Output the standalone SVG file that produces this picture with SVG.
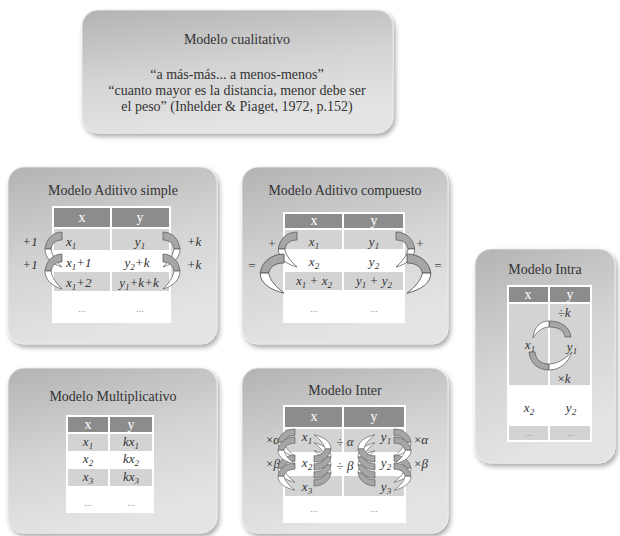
<svg xmlns="http://www.w3.org/2000/svg" xmlns:xlink="http://www.w3.org/1999/xlink" width="620" height="536" viewBox="0 0 620 536">
<defs>
<linearGradient id="bg" x1="0" y1="0" x2="0.3" y2="1">
<stop offset="0" stop-color="#b3b3b3"/>
<stop offset="0.55" stop-color="#d4d4d4"/>
<stop offset="1" stop-color="#e4e4e4"/>
</linearGradient>
<filter id="sh" x="-10%" y="-10%" width="125%" height="125%">
<feDropShadow dx="2" dy="3" stdDeviation="2.5" flood-color="#000" flood-opacity="0.35"/>
</filter>
<g id="rib">
<path class="rg" d="M0,0 C-9,0 -16,7 -17,17 L-11,17 C-10,11 -6,8 0,8 Z"/>
<path class="rw" d="M-17,17 C-17,26 -10,32 0,35 C-5,30 -10,24 -11,17 Z"/>
</g>
</defs>
<style>
.box{fill:url(#bg);filter:url(#sh);stroke:#eeeeee;stroke-width:0.8}
.t{font-family:"Liberation Serif","Times New Roman",serif;font-size:14px;fill:#333;text-anchor:middle}
.m{font-family:"Liberation Serif","Times New Roman",serif;font-style:italic;font-size:13px;fill:#333;text-anchor:middle}
.ms{font-family:"Liberation Serif","Times New Roman",serif;font-style:italic;font-size:13px;fill:#333}
.op{font-family:"Liberation Serif","Times New Roman",serif;font-size:13px;fill:#444;text-anchor:middle}
.hdt{font-family:"Liberation Serif","Times New Roman",serif;font-size:14px;fill:#fff;text-anchor:middle}
.dots{font-family:"Liberation Serif",serif;font-size:10px;fill:#999;text-anchor:middle}
.tb{fill:#fff}
.hd{fill:#8c8c8c}
.gr{fill:#d3d3d3}
.rg{fill:#a6a6a6;stroke:#555;stroke-width:0.7}
.rw{fill:#fff;stroke:#555;stroke-width:0.7}
.sb{font-size:9px}
</style>

<g id="cualitativo">
<rect class="box" x="82" y="10" width="311" height="123" rx="16"/>
<text class="t" x="237" y="44">Modelo cualitativo</text>
<text class="t" x="237" y="79">“a más-más... a menos-menos”</text>
<text class="t" x="237" y="95">“cuanto mayor es la distancia, menor debe ser</text>
<text class="t" x="237" y="111">el peso” (Inhelder &amp; Piaget, 1972, p.152)</text>
</g>

<g id="aditivo-simple">
<rect class="box" x="8" y="167" width="209" height="177" rx="16"/>
<text class="t" x="113" y="195">Modelo Aditivo simple</text>
<rect class="tb" x="52" y="206" width="119" height="117"/>
<rect class="hd" x="54" y="208" width="56" height="19"/>
<rect class="hd" x="112" y="208" width="57" height="19"/>
<rect class="gr" x="54" y="229" width="56" height="21"/>
<rect class="gr" x="112" y="229" width="57" height="21"/>
<rect class="gr" x="54" y="272" width="56" height="19"/>
<rect class="gr" x="112" y="272" width="57" height="19"/>
<text class="hdt" x="82" y="222">x</text>
<text class="hdt" x="140" y="222">y</text>
<text class="ms" x="66" y="246">x<tspan class="sb" dy="3">1</tspan></text>
<text class="m" x="140" y="246">y<tspan class="sb" dy="3">1</tspan></text>
<text class="ms" x="66" y="267">x<tspan class="sb" dy="3">1</tspan><tspan dy="-3">+1</tspan></text>
<text class="m" x="137" y="267">y<tspan class="sb" dy="3">2</tspan><tspan dy="-3">+k</tspan></text>
<text class="ms" x="66" y="287">x<tspan class="sb" dy="3">1</tspan><tspan dy="-3">+2</tspan></text>
<text class="m" x="139" y="287">y<tspan class="sb" dy="3">1</tspan><tspan dy="-3">+k+k</tspan></text>
<text class="dots" x="82" y="312">...</text>
<text class="dots" x="140" y="312">...</text>
<text class="m" x="30" y="246">+1</text>
<text class="m" x="30" y="269">+1</text>
<text class="m" x="194" y="246">+k</text>
<text class="m" x="194" y="269">+k</text>
</g>

<g id="aditivo-compuesto">
<rect class="box" x="242" y="167" width="206" height="177" rx="16"/>
<text class="t" x="345" y="195">Modelo Aditivo compuesto</text>
<rect class="tb" x="283" y="212" width="122" height="111"/>
<rect class="hd" x="285" y="214" width="57" height="14"/>
<rect class="hd" x="344" y="214" width="59" height="14"/>
<rect class="gr" x="285" y="230" width="57" height="19"/>
<rect class="gr" x="344" y="230" width="59" height="19"/>
<rect class="gr" x="285" y="272" width="57" height="18"/>
<rect class="gr" x="344" y="272" width="59" height="18"/>
<text class="hdt" x="314" y="225">x</text>
<text class="hdt" x="374" y="225">y</text>
<text class="m" x="314" y="246">x<tspan class="sb" dy="3">1</tspan></text>
<text class="m" x="374" y="246">y<tspan class="sb" dy="3">1</tspan></text>
<text class="m" x="314" y="266">x<tspan class="sb" dy="3">2</tspan></text>
<text class="m" x="374" y="266">y<tspan class="sb" dy="3">2</tspan></text>
<text class="m" x="314" y="285">x<tspan class="sb" dy="3">1</tspan><tspan dy="-3"> + x</tspan><tspan class="sb" dy="3">2</tspan></text>
<text class="m" x="374" y="285">y<tspan class="sb" dy="3">1</tspan><tspan dy="-3"> + y</tspan><tspan class="sb" dy="3">2</tspan></text>
<text class="dots" x="314" y="312">...</text>
<text class="dots" x="374" y="312">...</text>
<text class="op" x="272" y="248">+</text>
<text class="op" x="420" y="248">+</text>
<text class="op" x="252" y="270">=</text>
<text class="op" x="438" y="270">=</text>
</g>

<g id="intra">
<rect class="box" x="475" y="249" width="140" height="214" rx="16"/>
<text class="t" x="545" y="274">Modelo Intra</text>
<rect class="tb" x="507" y="285" width="85" height="157"/>
<rect class="hd" x="509" y="287" width="39" height="15"/>
<rect class="hd" x="550" y="287" width="40" height="15"/>
<rect class="gr" x="509" y="304" width="39" height="81"/>
<rect class="gr" x="550" y="304" width="40" height="81"/>
<rect class="gr" x="509" y="426" width="39" height="14"/>
<rect class="gr" x="550" y="426" width="40" height="14"/>
<text class="hdt" x="528" y="299">x</text>
<text class="hdt" x="570" y="299">y</text>
<text class="m" x="564" y="317"><tspan font-style="normal">÷</tspan>k</text>
<text class="m" x="530" y="349">x<tspan class="sb" dy="3">1</tspan></text>
<text class="m" x="572" y="351">y<tspan class="sb" dy="3">1</tspan></text>
<text class="m" x="564" y="383"><tspan font-style="normal">×</tspan>k</text>
<text class="m" x="529" y="412">x<tspan class="sb" dy="3">2</tspan></text>
<text class="m" x="571" y="412">y<tspan class="sb" dy="3">2</tspan></text>
<text class="dots" x="529" y="436">...</text>
<text class="dots" x="571" y="436">...</text>
</g>

<g id="multiplicativo">
<rect class="box" x="8" y="368" width="209" height="165" rx="16"/>
<text class="t" x="113" y="401">Modelo Multiplicativo</text>
<rect class="tb" x="66" y="415" width="88" height="98"/>
<rect class="hd" x="68" y="417" width="40" height="15"/>
<rect class="hd" x="110" y="417" width="42" height="15"/>
<rect class="gr" x="68" y="434" width="40" height="17"/>
<rect class="gr" x="110" y="434" width="42" height="17"/>
<rect class="gr" x="68" y="469" width="40" height="17"/>
<rect class="gr" x="110" y="469" width="42" height="17"/>
<text class="hdt" x="88" y="429">x</text>
<text class="hdt" x="131" y="429">y</text>
<text class="m" x="88" y="446">x<tspan class="sb" dy="3">1</tspan></text>
<text class="m" x="131" y="446">kx<tspan class="sb" dy="3">1</tspan></text>
<text class="m" x="88" y="463">x<tspan class="sb" dy="3">2</tspan></text>
<text class="m" x="131" y="463">kx<tspan class="sb" dy="3">2</tspan></text>
<text class="m" x="88" y="481">x<tspan class="sb" dy="3">3</tspan></text>
<text class="m" x="131" y="481">kx<tspan class="sb" dy="3">3</tspan></text>
<text class="dots" x="88" y="506">...</text>
<text class="dots" x="131" y="506">...</text>
</g>

<g id="inter">
<rect class="box" x="242" y="368" width="206" height="165" rx="16"/>
<text class="t" x="345" y="395">Modelo Inter</text>
<rect class="tb" x="283" y="405" width="123" height="118"/>
<rect class="hd" x="285" y="407" width="57" height="20"/>
<rect class="hd" x="344" y="407" width="60" height="20"/>
<rect class="gr" x="285" y="429" width="57" height="23"/>
<rect class="gr" x="344" y="429" width="60" height="23"/>
<rect class="gr" x="285" y="476" width="57" height="20"/>
<rect class="gr" x="344" y="476" width="60" height="20"/>
<text class="hdt" x="314" y="421">x</text>
<text class="hdt" x="374" y="421">y</text>
<text class="m" x="307" y="441">x<tspan class="sb" dy="3">1</tspan></text>
<text class="m" x="386" y="441">y<tspan class="sb" dy="3">1</tspan></text>
<text class="m" x="307" y="467">x<tspan class="sb" dy="3">2</tspan></text>
<text class="m" x="386" y="467">y<tspan class="sb" dy="3">2</tspan></text>
<text class="m" x="307" y="491">x<tspan class="sb" dy="3">3</tspan></text>
<text class="m" x="386" y="491">y<tspan class="sb" dy="3">3</tspan></text>
<text class="m" x="345" y="446"><tspan font-style="normal">÷ </tspan>α</text>
<text class="m" x="345" y="470"><tspan font-style="normal">÷ </tspan>β</text>
<text class="m" x="273" y="444"><tspan font-style="normal">×</tspan>α</text>
<text class="m" x="273" y="468"><tspan font-style="normal">×</tspan>β</text>
<text class="m" x="421" y="444"><tspan font-style="normal">×</tspan>α</text>
<text class="m" x="421" y="468"><tspan font-style="normal">×</tspan>β</text>
<text class="dots" x="314" y="512">...</text>
<text class="dots" x="374" y="512">...</text>
</g>

<g id="connectors">
<use href="#rib" transform="translate(62,232)"/>
<use href="#rib" transform="translate(62,254)"/>
<use href="#rib" transform="translate(163,232) scale(-1,1)"/>
<use href="#rib" transform="translate(163,254) scale(-1,1)"/>
<use href="#rib" transform="translate(297,232) scale(1.1,1)"/>
<use href="#rib" transform="translate(284,254) scale(1.4,1.12)"/>
<use href="#rib" transform="translate(396,232) scale(-1.1,1)"/>
<use href="#rib" transform="translate(407,254) scale(-1.4,1.12)"/>
<use href="#rib" transform="translate(295,455) scale(1,0.78)"/>
<use href="#rib" transform="translate(295,463) scale(1,0.78)"/>
<use href="#rib" transform="translate(295,429) scale(1,0.78)"/>
<use href="#rib" transform="translate(295,437) scale(1,0.78)"/>
<use href="#rib" transform="translate(314,486) scale(-1,-0.78)"/>
<use href="#rib" transform="translate(314,478) scale(-1,-0.78)"/>
<use href="#rib" transform="translate(314,470) scale(-1,-0.78)"/>
<use href="#rib" transform="translate(314,462) scale(-1,-0.78)"/>
<use href="#rib" transform="translate(375,486) scale(1,-0.78)"/>
<use href="#rib" transform="translate(375,478) scale(1,-0.78)"/>
<use href="#rib" transform="translate(375,470) scale(1,-0.78)"/>
<use href="#rib" transform="translate(375,462) scale(1,-0.78)"/>
<use href="#rib" transform="translate(394,455) scale(-1,0.78)"/>
<use href="#rib" transform="translate(394,463) scale(-1,0.78)"/>
<use href="#rib" transform="translate(394,429) scale(-1,0.78)"/>
<use href="#rib" transform="translate(394,437) scale(-1,0.78)"/>
<path class="rg" d="M549,321 C561,321 570,327 571,337 L565,337 C564,330 558,327 549,327 Z"/>
<path class="rw" d="M549,321 C540,321 534,327 533,338 C536,333 542,327 549,327 Z"/>
<path class="rg" d="M529,352 L535,352 C536,360 541,364 549,364 L549,370 C538,370 530,363 529,352 Z"/>
<path class="rw" d="M549,370 C560,370 568,363 572,352 C566,358 558,364 549,364 Z"/>
</g>
</svg>
